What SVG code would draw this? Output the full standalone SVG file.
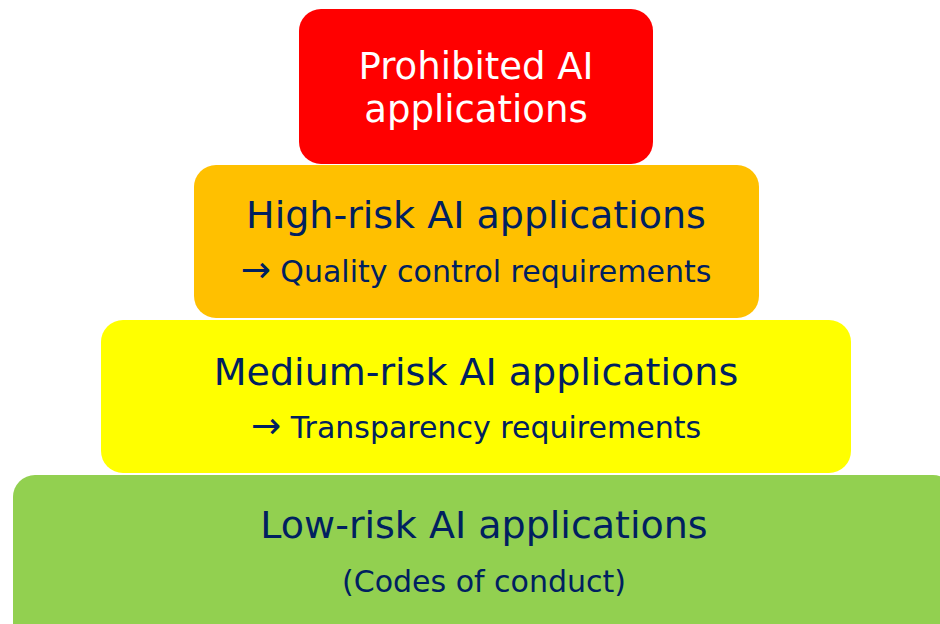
<svg xmlns="http://www.w3.org/2000/svg" width="940" height="624" viewBox="0 0 940 624">
  <style>
    .tier { stroke: none; }
    .lbl { font-family: "DejaVu Sans", Verdana, sans-serif; text-anchor: middle; fill: #002060; }
    .big { font-size: 38px; }
    .small { font-size: 30px; }
    .arrow { font-size: 36px; }
    .white { fill: #ffffff; font-size: 37px; }
  </style>
  <rect width="940" height="624" fill="#ffffff"/>

  <!-- Risk pyramid, top tier first -->
  <g id="prohibited">
    <rect class="tier" x="299" y="9" width="354" height="155" rx="22" fill="#ff0000"/>
    <text class="lbl white" x="476" y="79">Prohibited AI</text>
    <text class="lbl white" x="476" y="122">applications</text>
  </g>

  <g id="high-risk">
    <rect class="tier" x="194" y="165" width="565" height="153" rx="22" fill="#ffc000"/>
    <text class="lbl big" x="476" y="228">High-risk AI applications</text>
    <text class="lbl small" x="476" y="282"><tspan class="arrow">→</tspan> Quality control requirements</text>
  </g>

  <g id="medium-risk">
    <rect class="tier" x="101" y="320" width="750" height="153" rx="22" fill="#ffff00"/>
    <text class="lbl big" x="476" y="385">Medium-risk AI applications</text>
    <text class="lbl small" x="476" y="438"><tspan class="arrow">→</tspan> Transparency requirements</text>
  </g>

  <g id="low-risk">
    <rect class="tier" x="13" y="475" width="942" height="170" rx="22" fill="#92d050"/>
    <text class="lbl big" x="484" y="538">Low-risk AI applications</text>
    <text class="lbl small" x="484" y="592">(Codes of conduct)</text>
  </g>

  <g id="connectors"/>
</svg>
